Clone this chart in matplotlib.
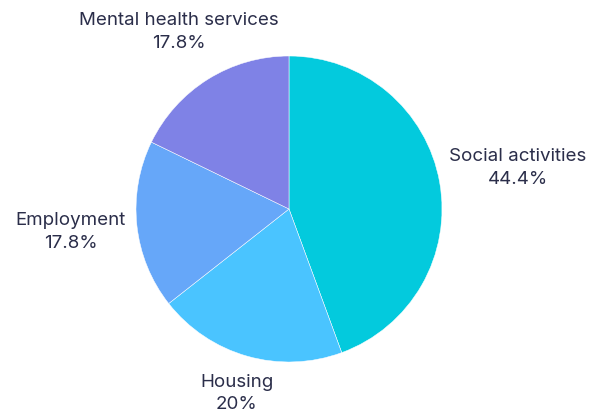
import numpy as np
import matplotlib
matplotlib.use("Agg")
import matplotlib.pyplot as plt

plt.rcParams.update({
    "font.family": ["Inter", "DejaVu Sans"],
    "font.size": 13.5,
})

# ---- data ----
categories = ["Social activities", "Housing", "Employment", "Mental health services"]
shares = [44.4, 20.0, 17.8, 17.8]
share_labels = ["44.4%", "20%", "17.8%", "17.8%"]
colors = ["#03CADD", "#4AC4FF", "#66A7F9", "#7F82E6"]

TEXT = "#2B2E4A"
W, H = 595, 417
CX, CY, R = 289, 208, 153
label_pad = [10, 18, 11, 32]   # gap between rim and label box, px

fig = plt.figure(figsize=(W / 100, H / 100), dpi=100)
ax = fig.add_axes([0, 0, 1, 1])

wedges, _ = ax.pie(shares, colors=colors, startangle=90, counterclock=False,
                   center=(CX, CY), radius=R, frame=True,
                   wedgeprops=dict(edgecolor="white", linewidth=0.35))
# pie() resets the view; pin axes to pixel units afterwards
ax.set_xlim(0, W)
ax.set_ylim(0, H)
ax.set_aspect("equal")
ax.axis("off")

fig.canvas.draw()
renderer = fig.canvas.get_renderer()
for w, cat, lab, pad in zip(wedges, categories, share_labels, label_pad):
    mid = np.deg2rad((w.theta1 + w.theta2) / 2)
    dx, dy = np.cos(mid), np.sin(mid)
    t = ax.text(CX, CY, f"{cat}\n{lab}", ha="center", va="center",
                multialignment="center", color=TEXT, linespacing=1.45)
    bb = t.get_window_extent(renderer)
    hw, hh = bb.width / 2, bb.height / 2
    ext = min(hw / max(abs(dx), 1e-6), hh / max(abs(dy), 1e-6))
    r = R + pad + ext
    t.set_position((CX + r * dx, CY + r * dy))

fig.savefig("out.png", dpi=100)
